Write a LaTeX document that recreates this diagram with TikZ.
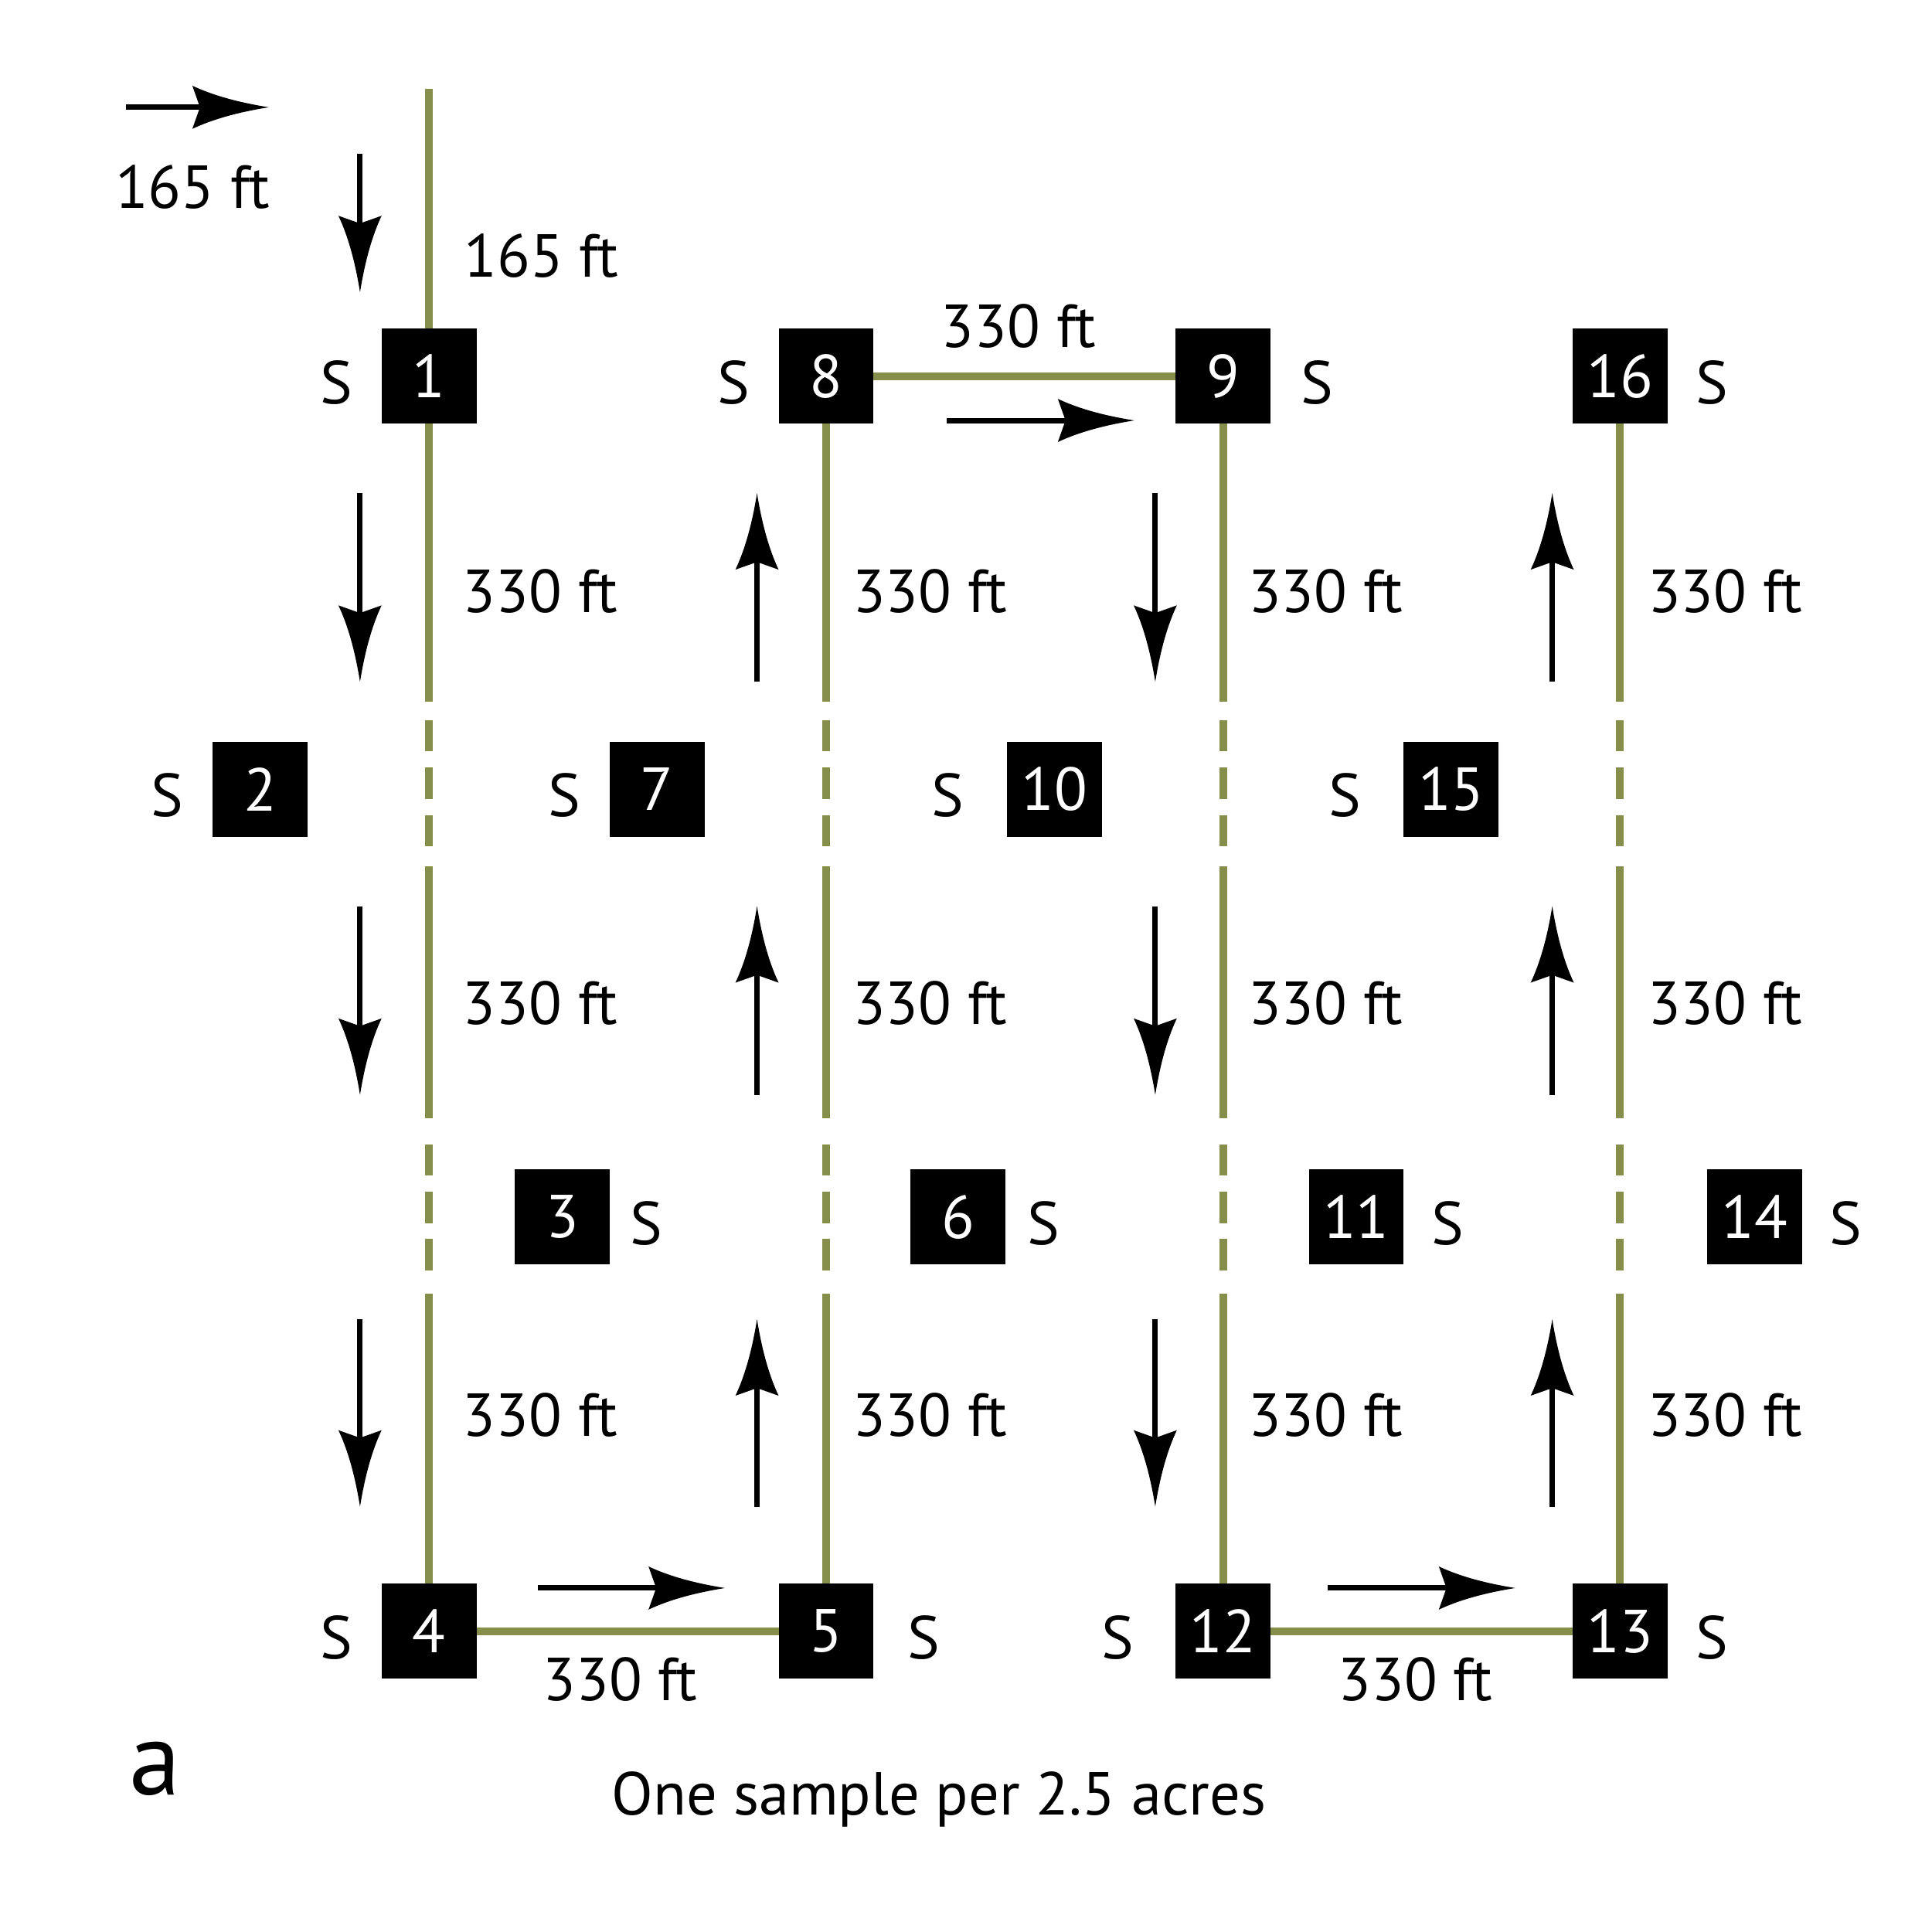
\documentclass[tikz,border=0pt]{standalone}
\usepackage{fontspec}
\setmainfont{PT Sans}
\usetikzlibrary{arrows.meta,positioning}
\definecolor{trailgreen}{RGB}{134,142,76}
\pgfdeclarearrow{
  name=Flare,
  parameters={\the\pgfarrowlength,\the\pgfarrowwidth},
  setup code={
    \pgfarrowssettipend{0pt}
    \pgfarrowssetbackend{-\pgfarrowlength}
    \pgfarrowssetlineend{-.8\pgfarrowlength}
    \pgfarrowsupperhullpoint{0pt}{0pt}
    \pgfarrowsupperhullpoint{-\pgfarrowlength}{.5\pgfarrowwidth}
    \pgfarrowssavethe\pgfarrowlength
    \pgfarrowssavethe\pgfarrowwidth
  },
  drawing code={
    \pgfpathmoveto{\pgfqpoint{0pt}{0pt}}
    \pgfpathcurveto{\pgfqpoint{-.35\pgfarrowlength}{.1\pgfarrowwidth}}{\pgfqpoint{-.7\pgfarrowlength}{.25\pgfarrowwidth}}{\pgfqpoint{-\pgfarrowlength}{.5\pgfarrowwidth}}
    \pgfpathcurveto{\pgfqpoint{-.96\pgfarrowlength}{.3\pgfarrowwidth}}{\pgfqpoint{-.92\pgfarrowlength}{.1\pgfarrowwidth}}{\pgfqpoint{-.9\pgfarrowlength}{0pt}}
    \pgfpathcurveto{\pgfqpoint{-.92\pgfarrowlength}{-.1\pgfarrowwidth}}{\pgfqpoint{-.96\pgfarrowlength}{-.3\pgfarrowwidth}}{\pgfqpoint{-\pgfarrowlength}{-.5\pgfarrowwidth}}
    \pgfpathcurveto{\pgfqpoint{-.7\pgfarrowlength}{-.25\pgfarrowwidth}}{\pgfqpoint{-.35\pgfarrowlength}{-.1\pgfarrowwidth}}{\pgfqpoint{0pt}{0pt}}
    \pgfpathclose
    \pgfusepathqfill
  },
  defaults={length=6.2mm,width=3.5mm}
}
\begin{document}
\begin{tikzpicture}[x=1mm,y=1mm,
  every node/.style={font=\fontsize{14}{16}\selectfont},
  box/.style={fill=black,text=white,minimum size=7.7mm,inner sep=0pt,outer sep=0pt},
  tag/.style={inner sep=0pt,yshift=-0.5mm},
  dist/.style={inner sep=0pt,anchor=base},
  trail/.style={draw=trailgreen,line width=1.78pt},
  gaps/.style={dash pattern=on 22.55mm off 1.5mm on 2.55mm off 1.3mm on 2.55mm off 1.3mm on 2.55mm off 1.6mm on 20.45mm off 2.1mm on 2.55mm off 1.3mm on 2.55mm off 1.3mm on 2.55mm off 1.85mm on 40mm},
  dir/.style={line width=1.25pt,-{Flare}}]
\useasboundingbox (0,0) rectangle (156.7,-156.7);
\node[box] (b1) at (34.8,-30.5) {1};
\node[box] (b8) at (67,-30.5) {8};
\node[box] (b9) at (99.2,-30.5) {9};
\node[box] (b16) at (131.4,-30.5) {16};
\node[box] (b2) at (21.1,-64) {2};
\node[box] (b7) at (53.3,-64) {7};
\node[box] (b10) at (85.5,-64) {10};
\node[box] (b15) at (117.7,-64) {15};
\node[box] (b3) at (45.6,-98.7) {3};
\node[box] (b6) at (77.7,-98.7) {6};
\node[box] (b11) at (110,-98.7) {11};
\node[box] (b14) at (142.3,-98.7) {14};
\node[box] (b4) at (34.8,-132.3) {4};
\node[box] (b5) at (67,-132.3) {5};
\node[box] (b12) at (99.2,-132.3) {12};
\node[box] (b13) at (131.4,-132.3) {13};
\node[tag,left=0.23cm of b1] (s1) {S};
\node[tag,left=0.23cm of b8] (s8) {S};
\node[tag,right=0.24cm of b9] (s9) {S};
\node[tag,right=0.22cm of b16] (s16) {S};
\node[tag,left=0.23cm of b2] (s2) {S};
\node[tag,left=0.23cm of b7] (s7) {S};
\node[tag,left=0.34cm of b10] (s10) {S};
\node[tag,left=0.34cm of b15] (s15) {S};
\node[tag,right=0.16cm of b3] (s3) {S};
\node[tag,right=0.17cm of b6] (s6) {S};
\node[tag,right=0.22cm of b11] (s11) {S};
\node[tag,right=0.22cm of b14] (s14) {S};
\node[tag,left=0.23cm of b4] (s4) {S};
\node[tag,right=0.27cm of b5] (s5) {S};
\node[tag,left=0.33cm of b12] (s12) {S};
\node[tag,right=0.22cm of b13] (s13) {S};
\coordinate (top) at (34.8,-7.2);
\draw[trail] (top) -- (b1.north);
\draw[trail,gaps] (b1.south) -- (b4.north);
\draw[trail,gaps] (b8.south) -- (b5.north);
\draw[trail,gaps] (b9.south) -- (b12.north);
\draw[trail,gaps] (b16.south) -- (b13.north);
\draw[trail] (b8.east) -- (b9.west);
\draw[trail] (b4.east) -- (b5.west);
\draw[trail] (b12.east) -- (b13.west);
\draw[dir] (10.2,-8.7) -- (21.8,-8.7);
\draw[dir] (29.2,-12.5) -- (29.2,-23.7);
\draw[dir] (76.8,-34.1) -- (92,-34.1);
\draw[dir] (43.6,-128.8) -- (58.8,-128.8);
\draw[dir] (107.7,-128.8) -- (122.9,-128.8);
\foreach \x in {29.2,93.7}
  \foreach \y/\z in {-40/-55.3,-73.5/-88.8,-107/-122.2}
    \draw[dir] (\x,\y) -- (\x,\z);
\foreach \x in {61.4,125.9}
  \foreach \y/\z in {-40/-55.3,-73.5/-88.8,-107/-122.2}
    \draw[dir] (\x,\z) -- (\x,\y);
\node[dist] (h1) at (15.6,-16.9) {165 ft};
\node[dist] (h2) at (43.9,-22.5) {165 ft};
\node[dist] (t1) at (82.6,-28.2) {330 ft};
\foreach \x [count=\i] in {43.8,75.4,107.5,139.9}
  \foreach \y [count=\j] in {-49.7,-83.1,-116.5}
    \node[dist] (v\i\j) at (\x,\y) {330 ft};
\node[dist] (m1) at (50.3,-137.9) {330 ft};
\node[dist] (m2) at (114.8,-137.9) {330 ft};
\node[dist,font=\fontsize{24}{28}\selectfont] (pa) at (12.6,-145.6) {a};
\node[dist] (cap) at (76.15,-147.2) {One sample per 2.5 acres};
\end{tikzpicture}
\end{document}
